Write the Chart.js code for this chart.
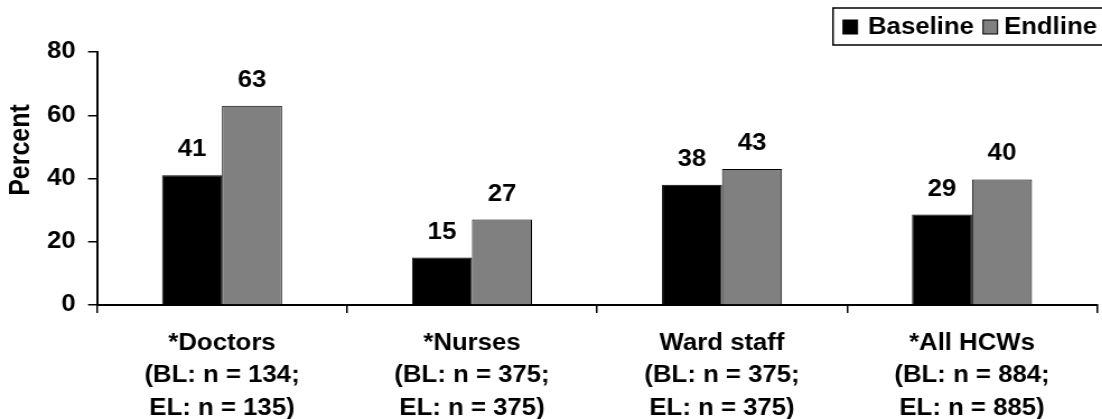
<!DOCTYPE html>
<html>
<head>
<meta charset="utf-8">
<script src="https://cdn.jsdelivr.net/npm/chart.js@4/dist/chart.umd.min.js"></script>
<style>
    html, body { margin: 0; padding: 0; background: #fff; overflow: hidden; }
    #wrap { width: 1102px; height: 419px; overflow: hidden; }
    /* the source picture is stretched sideways, so the canvas is too */
    #hcw-chart { display: block; transform: scaleX(1.12); transform-origin: 0 0; }
</style>
</head>
<body>
<div id="wrap">
    <canvas id="hcw-chart" width="1010" height="419"></canvas>
</div>
<script>
const categories = [
    ['*Doctors', '(BL: n = 134;', 'EL: n = 135)'],
    ['*Nurses', '(BL: n = 375;', 'EL: n = 375)'],
    ['Ward staff', '(BL: n = 375;', 'EL: n = 375)'],
    ['*All HCWs', '(BL: n = 884;', 'EL: n = 885)']
];
const seriesNames = ['Baseline', 'Endline'];
const baseline = [41, 15, 38, 28.6];
const endline = [63, 27, 43, 39.7];
const yTicks = [0, 20, 40, 60, 80];

const SX = 1.12;
const W = 1010;
const FONT = "'Liberation Sans', Arial, sans-serif";

const hcwChart = (function () {
    function getChartData() {
        return {
            labels: categories,
            datasets: [{
                label: seriesNames[0],
                backgroundColor: '#000000',
                borderColor: '#000000',
                borderWidth: 1,
                data: baseline
            }, {
                label: seriesNames[1],
                backgroundColor: '#808080',
                borderColor: '#000000',
                borderWidth: 1,
                data: endline
            }]
        };
    }

    // value labels above the bars
    const valueLabels = {
        id: 'valueLabels',
        afterDatasetsDraw(chart) {
            const ctx = chart.ctx;
            ctx.save();
            ctx.font = 'bold 23px ' + FONT;
            ctx.fillStyle = '#000';
            ctx.textAlign = 'center';
            ctx.textBaseline = 'alphabetic';
            chart.data.datasets.forEach((ds, i) => {
                chart.getDatasetMeta(i).data.forEach((bar, j) => {
                    ctx.fillText(String(Math.round(ds.data[j])), bar.x, bar.y - 19);
                });
            });
            ctx.restore();
        }
    };

    // boxed legend in the top right corner (runs off the edge), plus the y title
    const boxLegend = {
        id: 'boxLegend',
        afterDraw(chart) {
            const ctx = chart.ctx;
            ctx.save();
            ctx.lineWidth = 1.5;
            ctx.strokeStyle = '#000';
            ctx.strokeRect(833 / SX, 8, 300, 37);

            ctx.font = 'bold 23px ' + FONT;
            ctx.textBaseline = 'middle';
            ctx.textAlign = 'left';
            const boxX = [843 / SX, 983 / SX];
            const textX = [868 / SX, 1004 / SX];
            chart.data.datasets.forEach((ds, i) => {
                ctx.fillStyle = ds.backgroundColor;
                ctx.fillRect(boxX[i], 20, 13, 14);
                ctx.lineWidth = 1;
                ctx.strokeRect(boxX[i], 20, 13, 14);
                ctx.fillStyle = '#000';
                ctx.fillText(ds.label, textX[i], 28);
            });

            ctx.translate(21 / SX, 150);
            ctx.rotate(-Math.PI / 2);
            ctx.textAlign = 'center';
            ctx.font = 'bold 25px ' + FONT;
            ctx.fillText('Percent', 0, 0);
            ctx.restore();
        }
    };

    function config(ele, chartData) {
        const tickFont = { family: FONT, size: 23, weight: 'bold', lineHeight: 1.42 };
        const cfg = {
            type: 'bar',
            data: chartData,
            options: {
                responsive: false,
                animation: false,
                devicePixelRatio: 1,
                layout: {
                    padding: { top: 52, right: W - 1097 / SX, bottom: 0, left: 0 }
                },
                plugins: {
                    legend: { display: false },
                    tooltip: { enabled: false }
                },
                datasets: {
                    bar: { categoryPercentage: 0.48, barPercentage: 1 }
                },
                scales: {
                    x: {
                        grid: { drawOnChartArea: false, drawTicks: true, tickLength: 8, color: '#000', lineWidth: 1.5 },
                        border: { display: true, color: '#000', width: 2 },
                        ticks: { color: '#000', font: tickFont, padding: 14, maxRotation: 0, autoSkip: false },
                        afterFit: (scale) => { scale.height = 419 - 305; }
                    },
                    y: {
                        min: yTicks[0],
                        max: yTicks[yTicks.length - 1],
                        afterBuildTicks: (scale) => { scale.ticks = yTicks.map(v => ({ value: v })); },
                        grid: { drawOnChartArea: false, drawTicks: true, tickLength: 8, color: '#000', lineWidth: 1.5 },
                        border: { display: true, color: '#000', width: 2 },
                        ticks: { color: '#000', font: { family: FONT, size: 23, weight: 'bold' }, padding: 11 },
                        afterFit: (scale) => { scale.width = 97 / SX; }
                    }
                }
            },
            plugins: [valueLabels, boxLegend]
        };

        return new Chart(ele, cfg);
    }

    return {
        configureChart: function () {
            const ele = document.getElementById('hcw-chart');
            config(ele, getChartData());
        }
    };
})();

hcwChart.configureChart();
</script>
</body>
</html>
